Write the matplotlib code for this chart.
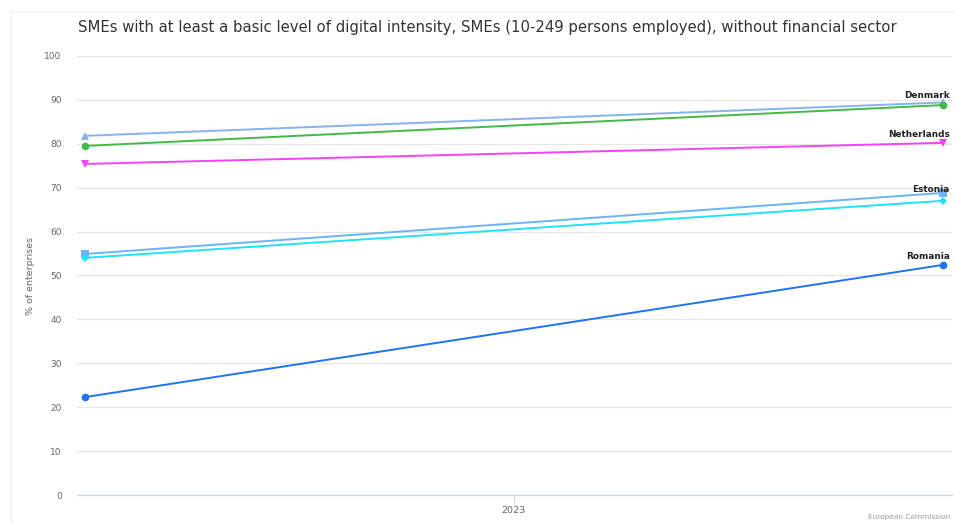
import matplotlib.pyplot as plt
from matplotlib.lines import Line2D

# x positions of the two observations (left / right end of the axis)
periods = [0, 1]
tick_pos = [0.5]
tick_labels = ["2023"]

names = ["Denmark", "", "Netherlands", "Estonia", "", "Romania"]
denmark = [81.8, 89.4]
green_series = [79.5, 88.8]
netherlands = [75.4, 80.2]
estonia = [54.9, 68.8]
cyan_series = [54.0, 67.0]
romania = [22.3, 52.4]
series = [denmark, green_series, netherlands, estonia, cyan_series, romania]

colors = ["#86b3ee", "#41bb45", "#f542f5", "#6db3f7", "#1fe3fa", "#2173f3"]
markers = ["^", "o", "v", "s", "D", "o"]
msizes = [5.5, 5.5, 5.5, 5.5, 4, 5.5]
label_dy = [1.5, 0, 3, -0.5, 0, 3]  # label offsets above the last point (pt)

fig = plt.figure(figsize=(9.55, 5.24), dpi=100)
ax = fig.add_axes([0.0806, 0.0553, 0.916, 0.838])

for vals, name, col, mk, ms, dy in zip(series, names, colors, markers, msizes, label_dy):
    ax.plot(periods, vals, color=col, lw=1.4, marker=mk, markersize=ms,
            markeredgewidth=0, zorder=3)
    if name:
        ax.annotate(name, (periods[-1], vals[-1]), xytext=(5, dy),
                    textcoords="offset points", ha="right", va="bottom",
                    fontsize=6.4, fontweight="bold", color="#222222", zorder=4)

ax.set_xlim(-0.0093, 1.0105)
ax.set_ylim(0, 100)
ax.set_yticks(range(0, 101, 10))
ax.yaxis.grid(True, color="#e6e6e6", lw=0.8)
ax.set_axisbelow(True)
ax.set_xticks(tick_pos)
ax.set_xticklabels(tick_labels)
ax.tick_params(axis="y", length=0, labelsize=6.5, labelcolor="#666666", pad=11)
ax.tick_params(axis="x", length=5, color="#ccd6eb", labelsize=6.8,
               labelcolor="#666666", pad=3)
for s in ["top", "right", "left"]:
    ax.spines[s].set_visible(False)
ax.spines["bottom"].set_color("#ccd6eb")
ax.spines["bottom"].set_linewidth(0.9)
ax.set_ylabel("% of enterprises", fontsize=6.8, color="#666666", labelpad=7)

fig.text(0.082, 0.948, "SMEs with at least a basic level of digital intensity, "
         "SMEs (10-249 persons employed), without financial sector",
         fontsize=10.7, color="#333333", va="center", ha="left")
fig.text(0.995, 0.008, "European Commission", fontsize=5.3, color="#999999",
         ha="right", va="bottom")

# faint outer frame
fig.add_artist(Line2D([0.012, 0.012], [0, 0.979], transform=fig.transFigure,
                      color="#eeeeee", lw=0.8))
fig.add_artist(Line2D([0.012, 1], [0.979, 0.979], transform=fig.transFigure,
                      color="#eeeeee", lw=0.8))

plt.savefig("out.png", dpi=100)
plt.close()
